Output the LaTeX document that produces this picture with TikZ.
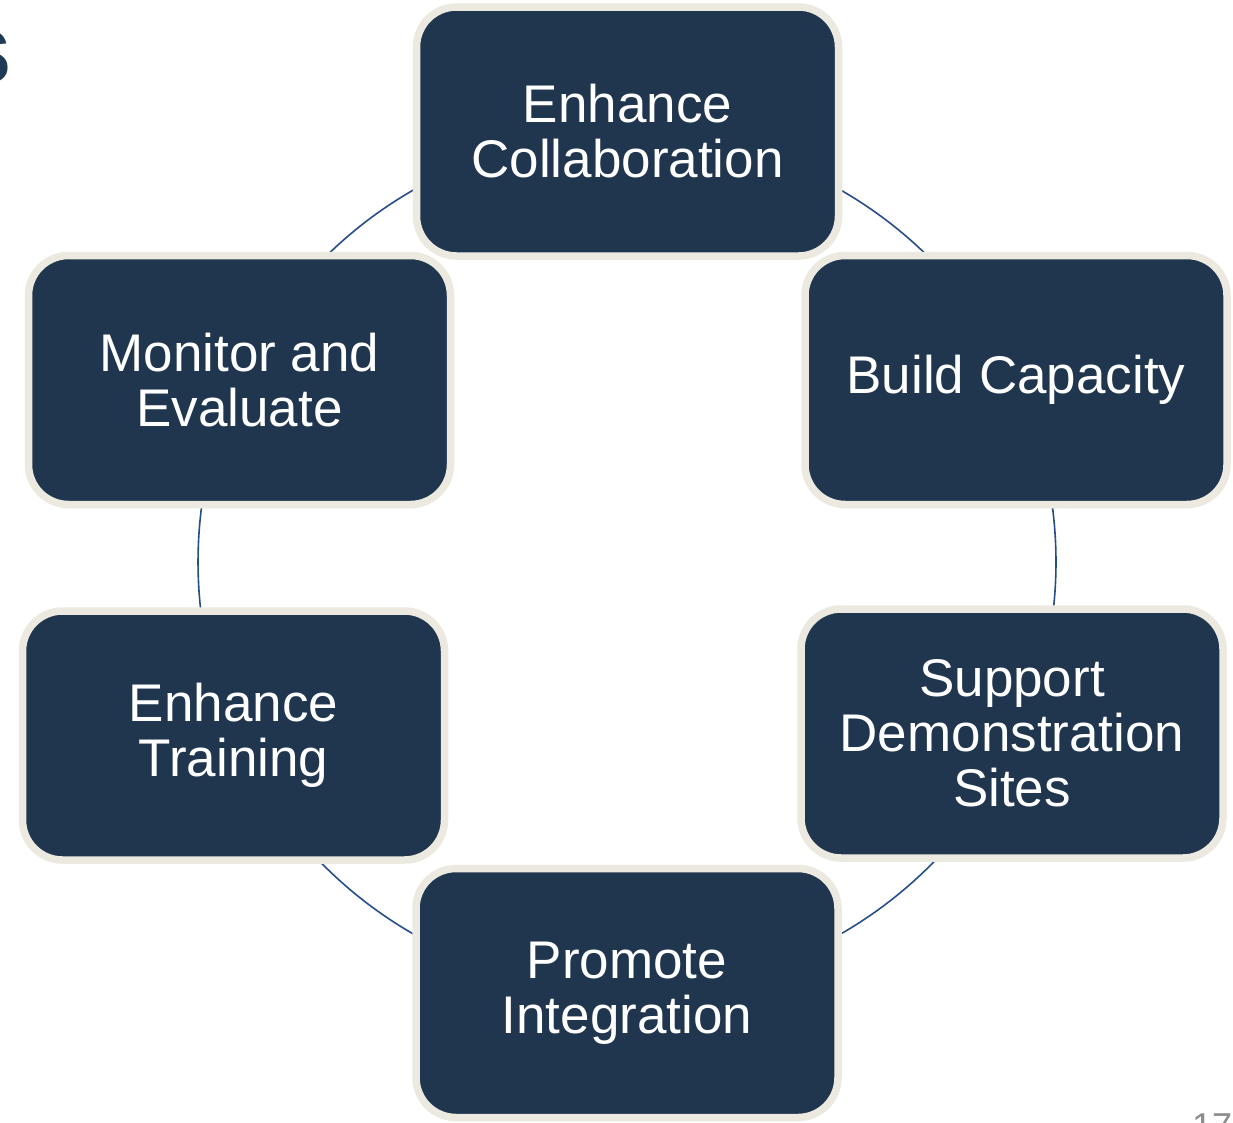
\documentclass[tikz,border=0pt]{standalone}
\usepackage{fontspec}
\setmainfont{Liberation Sans}
\usetikzlibrary{calc,backgrounds,shadows}
\definecolor{boxfill}{RGB}{31,54,78}
\definecolor{boxrim}{RGB}{236,234,224}
\definecolor{connblue}{RGB}{38,78,138}
\definecolor{titleblue}{RGB}{31,58,86}
\definecolor{pagegray}{RGB}{140,140,140}
\tikzset{
  cyclebox/.style={draw=boxrim, fill=boxfill, line width=7.5pt, rounded corners=40pt,
    minimum width=422pt, minimum height=249pt, text=white, align=center, inner sep=0pt,
    font={\fontsize{53}{55}\selectfont},
    drop shadow={opacity=0.25, shadow xshift=1.5pt, shadow yshift=-3pt, fill=black!70}},
  conn/.style={draw=connblue, line width=1.6pt}
}
\begin{document}
\begin{tikzpicture}[x=1pt,y=-1pt]
\useasboundingbox (0,0) rectangle (1233,1122);
\coordinate (O) at (627,562);
\node[cyclebox] (top)     at (627.5,131.5) {Enhance\\Collaboration};
\node[cyclebox] (build)   at (1016,380)    {Build Capacity};
\node[cyclebox] (support) at (1012,733.5)  {Support\\Demonstration\\Sites};
\node[cyclebox] (promote) at (627,993)     {Promote\\Integration};
\node[cyclebox] (train)   at (233.5,735.5) {Enhance\\Training};
\node[cyclebox] (monitor) at (239.5,380)   {Monitor and\\Evaluate};
\begin{scope}[on background layer]
\fill[white] (0,0) rectangle (1233,1122);
\foreach \a/\b in {top/build, build/support, support/promote, promote/train, train/monitor, monitor/top}
  \draw[conn] let \p1=($(\a)-(O)$), \p2=($(\b)-(O)$),
     \n1={atan2(\y1,\x1)}, \n2={atan2(\y2,\x2)}, \n3={\n2-360*(\n2>\n1)} in
     ($(O)+(\n1:429pt)$) arc[start angle=\n1, end angle=\n3, radius=429pt];
\end{scope}
\node[anchor=base east, inner sep=0pt, text=titleblue, font={\fontsize{100}{100}\bfseries\selectfont}] (title) at (12,83) {s};
\node[anchor=north west, inner sep=0pt, text=pagegray, font={\fontsize{36}{36}\selectfont}] (pagenum) at (1192,1114) {17};
\end{tikzpicture}
\end{document}
